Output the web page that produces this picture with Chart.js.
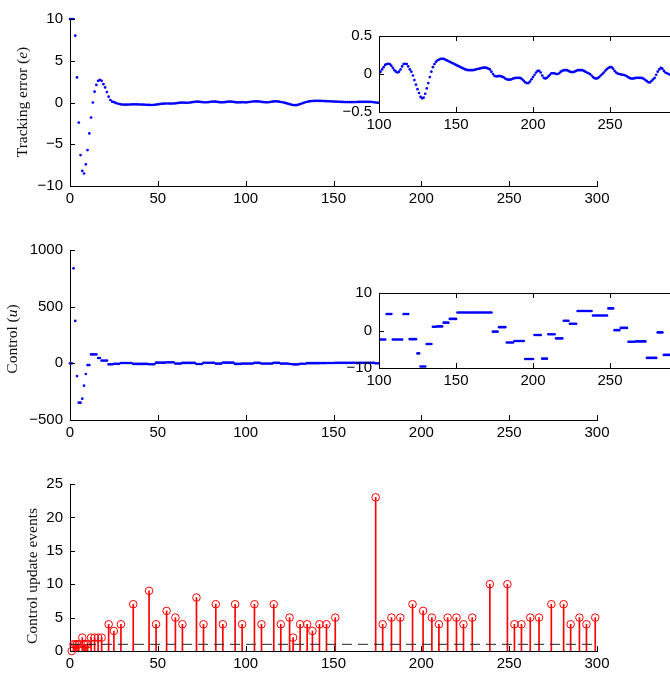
<!DOCTYPE html>
<html>
<head>
<meta charset="utf-8">
<script src="https://cdn.jsdelivr.net/npm/chart.js@4.4.1/dist/chart.umd.min.js"></script>
<style>
  html, body { margin: 0; padding: 0; background: #fff; overflow: hidden; width: 670px; height: 673px; }
  canvas { position: absolute; }
</style>
</head>
<body>
<canvas id="errChart" width="670" height="215" style="left:0;top:0"></canvas>
<canvas id="ctrlChart" width="670" height="220" style="left:0;top:230px"></canvas>
<canvas id="eventChart" width="670" height="210" style="left:0;top:463px"></canvas>
<canvas id="errZoom" width="420" height="115" style="left:290px;top:20px"></canvas>
<canvas id="ctrlZoom" width="420" height="115" style="left:290px;top:277px"></canvas>
<script>
// tracking error e, one sample per time step (t = 0..300)
const trackingError = [
  10, 10, 10, 8, 3, -2.4, -6.3, -8.2, -8.5, -7.4,
  -5.7, -3.7, -1.8, 0, 1.3, 2.1, 2.6, 2.7, 2.6, 2.2,
  1.8, 1.25, 0.7, 0.3, 0.1, 0.05, -0.05, -0.12, -0.18, -0.22,
  -0.25, -0.26, -0.26, -0.25, -0.24, -0.23, -0.22, -0.22, -0.22, -0.23,
  -0.24, -0.25, -0.26, -0.27, -0.28, -0.29, -0.3, -0.3, -0.28, -0.25,
  -0.22, -0.19, -0.16, -0.14, -0.13, -0.12, -0.12, -0.13, -0.13, -0.12,
  -0.1, -0.07, -0.04, -0.02, -0.01, -0.02, -0.03, -0.03, -0.01, 0.02,
  0.05, 0.08, 0.1, 0.1, 0.08, 0.05, 0.03, 0.02, 0.03, 0.05,
  0.08, 0.1, 0.11, 0.1, 0.07, 0.04, 0.02, 0.02, 0.04, 0.07,
  0.1, 0.11, 0.1, 0.07, 0.04, 0.02, 0.01, 0.02, 0.04, 0.03,
  0.01, 0.03, 0.06, 0.09, 0.12, 0.13, 0.135, 0.13, 0.11, 0.08,
  0.05, 0.03, 0.02, 0.03, 0.06, 0.1, 0.13, 0.135, 0.13, 0.1,
  0.06, 0.03, -0.02, -0.08, -0.14, -0.2, -0.25, -0.3, -0.32, -0.31,
  -0.26, -0.19, -0.12, -0.04, 0.03, 0.09, 0.13, 0.16, 0.18, 0.19,
  0.2, 0.2, 0.2, 0.19, 0.18, 0.17, 0.16, 0.15, 0.14, 0.13,
  0.12, 0.11, 0.1, 0.09, 0.08, 0.07, 0.06, 0.055, 0.05, 0.05,
  0.05, 0.05, 0.055, 0.06, 0.066, 0.07, 0.075, 0.08, 0.083, 0.083,
  0.08, 0.07, 0.06, 0.03, 0, -0.025, -0.03, -0.03, -0.025, -0.03,
  -0.035, -0.045, -0.06, -0.07, -0.075, -0.075, -0.07, -0.06, -0.055, -0.05,
  -0.05, -0.05, -0.055, -0.07, -0.09, -0.11, -0.12, -0.12, -0.1, -0.07,
  -0.04, -0.01, 0.02, 0.04, 0.04, 0.02, -0.02, -0.05, -0.06, -0.05,
  -0.03, -0.01, 0.01, 0.01, 0.01, 0, 0, 0.01, 0.03, 0.04,
  0.05, 0.05, 0.05, 0.04, 0.03, 0.025, 0.025, 0.03, 0.04, 0.05,
  0.05, 0.05, 0.05, 0.04, 0.03, 0.02, 0.01, 0, -0.02, -0.04,
  -0.055, -0.06, -0.055, -0.04, -0.02, 0, 0.02, 0.045, 0.065, 0.08,
  0.09, 0.09, 0.07, 0.04, 0.02, 0.005, 0, -0.005, -0.01, -0.013,
  -0.02, -0.03, -0.045, -0.055, -0.06, -0.06, -0.055, -0.05, -0.05, -0.05,
  -0.05, -0.055, -0.065, -0.08, -0.095, -0.11, -0.11, -0.09, -0.07, -0.05,
  -0.01, 0.03, 0.06, 0.08, 0.07, 0.04, 0.02, 0.01, 0, -0.01,
  -0.01, 0, 0.01, 0.01, 0, -0.01, -0.01, 0, 0.01, 0.01,
  0
];

// control u, held between update events (t = 0..300)
const control = [
  0, 0, 838, 374, -112, -347, -347, -312, -197, -94,
  -15, -15, 79, 79, 79, 79, 47, 47, 24, 24,
  24, 24, -9, -9, -9, -4, -4, -4, -4, 3,
  3, 3, 3, 3, 3, 3, -5, -5, -5, -5,
  -5, -5, -5, -5, -5, -8, -8, -8, -8, 6,
  6, 6, 6, 6, 6, 9, 9, 9, 9, 9,
  -2, -2, -2, -2, 4, 4, 4, 4, 4, 4,
  4, 4, -6, -6, -6, -6, 5, 5, 5, 5,
  5, 5, 5, -3, -3, -3, -3, 6, 6, 6,
  6, 6, 6, 6, -5, -5, -5, -5, -2.4, -2.4,
  -2.4, -2.4, -2.4, -2.4, -2.4, 4.4, 4.4, 4.4, 4.4, -2.4,
  -2.4, -2.4, -2.4, -2.4, -2.4, -2.4, 4.4, 4.4, 4.4, 4.4,
  -2.3, -2.3, -2.3, -2.3, -2.3, -6.1, -6.1, -9.6, -9.6, -9.6,
  -9.6, -3.6, -3.6, -3.6, -3.6, 1, 1, 1, 1.1, 1.1,
  1.1, 1.1, 2.1, 2.1, 2.1, 2.1, 3.1, 3.1, 3.1, 3.1,
  3.1, 4.8, 4.8, 4.8, 4.8, 4.8, 4.8, 4.8, 4.8, 4.8,
  4.8, 4.8, 4.8, 4.8, 4.8, 4.8, 4.8, 4.8, 4.8, 4.8,
  4.8, 4.8, 4.8, 4.8, -0.3, -0.3, -0.3, -0.3, 0.9, 0.9,
  0.9, 0.9, 0.9, -3.2, -3.2, -3.2, -3.2, -3.2, -2.8, -2.8,
  -2.8, -2.8, -2.8, -2.8, -2.8, -7.6, -7.6, -7.6, -7.6, -7.6,
  -7.6, -1.2, -1.2, -1.2, -1.2, -1.2, -7.5, -7.5, -7.5, -7.5,
  -1, -1, -1, -1, -1, -2.1, -2.1, -2.1, -2.1, -2.1,
  2.6, 2.6, 2.6, 2.6, 1.8, 1.8, 1.8, 1.8, 1.8, 5.2,
  5.2, 5.2, 5.2, 5.2, 5.2, 5.2, 5.2, 5.2, 5.2, 4,
  4, 4, 4, 4, 4, 4, 4, 4, 4, 5.9,
  5.9, 5.9, 5.9, 0.1, 0.1, 0.1, 0.1, 0.7, 0.7, 0.7,
  0.7, 0.7, -3, -3, -3, -3, -3, -2.9, -2.9, -2.9,
  -2.9, -2.9, -2.9, -2.9, -7.3, -7.3, -7.3, -7.3, -7.3, -7.3,
  -7.3, -0.5, -0.5, -0.5, -0.5, -6.5, -6.5, -6.5, -6.5, -6.5,
  -2, -2, -2, -2, 1.5, 1.5, 1.5, 1.5, 1.5, 3,
  3
];

// control update events: time of event and steps since previous event
const eventTimes = [1, 2, 3, 4, 5, 7, 8, 9, 10, 12, 14, 16, 18, 22, 25, 29, 36, 45, 49, 55,
  60, 64, 72, 76, 83, 87, 94, 98, 105, 109, 116, 120, 125, 127, 131, 135, 138, 142, 146, 151,
  174, 178, 183, 188, 195, 201, 206, 210, 215, 220, 224, 229, 239, 249, 253, 257, 262, 267, 274, 281,
  285, 290, 294, 299];
const eventGaps = [0, 1, 1, 1, 1, 2, 1, 1, 1, 2, 2, 2, 2, 4, 3, 4, 7, 9, 4, 6,
  5, 4, 8, 4, 7, 4, 7, 4, 7, 4, 7, 4, 5, 2, 4, 4, 3, 4, 4, 5,
  23, 4, 5, 5, 7, 6, 5, 4, 5, 5, 4, 5, 10, 10, 4, 4, 5, 5, 7, 7,
  4, 5, 4, 5];
const threshold = 1;
const timeSpan = [0, 300];

const errTicks = [-10, 10, 5];
const ctrlTicks = [-500, 1000, 500];
const eventTicks = [0, 25, 5];
const errZoomTicks = [-0.5, 0.5, 0.5];
const ctrlZoomTicks = [-10, 10, 10];
const zoomStart = 100;

Chart.defaults.font.family = '"Liberation Sans", Arial, sans-serif';
Chart.defaults.font.size = 15;
Chart.defaults.color = '#000';

const toPoints = arr => arr.map((v, i) => ({ x: i, y: v }));
const minus = v => String(v).replace('-', '\u2212');

// MATLAB style: ticks pointing inward, optional full box with white face
const matlabAxes = {
  id: 'matlabAxes',
  beforeDraw(chart, args, opts) {
    if (!opts.box) return;
    const { ctx, chartArea: a } = chart;
    ctx.save();
    ctx.fillStyle = '#fff';
    ctx.fillRect(a.left, a.top, a.width, a.height);
    ctx.restore();
  },
  afterDraw(chart, args, opts) {
    const { ctx, chartArea: a, scales } = chart;
    const len = 5;
    ctx.save();
    ctx.strokeStyle = '#000';
    ctx.lineWidth = 1;
    ctx.beginPath();
    scales.x.ticks.forEach(t => {
      const px = Math.round(scales.x.getPixelForValue(t.value)) + 0.5;
      ctx.moveTo(px, a.bottom); ctx.lineTo(px, a.bottom - len);
      if (opts.box) { ctx.moveTo(px, a.top); ctx.lineTo(px, a.top + len); }
    });
    scales.y.ticks.forEach(t => {
      const py = Math.round(scales.y.getPixelForValue(t.value)) + 0.5;
      ctx.moveTo(a.left, py); ctx.lineTo(a.left + len, py);
      if (opts.box) { ctx.moveTo(a.right, py); ctx.lineTo(a.right - len, py); }
    });
    ctx.stroke();
    if (opts.box) {
      ctx.strokeRect(Math.round(a.left) + 0.5, Math.round(a.top) + 0.5, Math.round(a.width), Math.round(a.height));
    }
    ctx.restore();
  }
};

// rotated y label with an italic symbol
const yTitle = {
  id: 'yTitle',
  afterDraw(chart, args, opts) {
    if (!opts.parts) return;
    const ctx = chart.ctx;
    const font = it => (it ? 'italic ' : '') + '15.5px "Liberation Serif", "Times New Roman", serif';
    ctx.save();
    ctx.translate(opts.x, opts.y);
    ctx.rotate(-Math.PI / 2);
    ctx.fillStyle = '#111';
    ctx.textBaseline = 'middle';
    ctx.textAlign = 'left';
    let w = 0;
    opts.parts.forEach(p => { ctx.font = font(p[1]); w += ctx.measureText(p[0]).width; });
    let pos = -w / 2;
    opts.parts.forEach(p => {
      ctx.font = font(p[1]);
      ctx.fillText(p[0], pos, 0);
      pos += ctx.measureText(p[0]).width;
    });
    ctx.restore();
  }
};

Chart.register(matlabAxes, yTitle);

function options(cfg) {
  return {
    responsive: false,
    animation: false,
    events: [],
    layout: { padding: { top: cfg.top, right: cfg.right, left: 0, bottom: 0 } },
    plugins: {
      legend: { display: false },
      tooltip: { enabled: false },
      matlabAxes: { box: !!cfg.box },
      yTitle: cfg.title || {}
    },
    scales: {
      x: {
        type: 'linear',
        min: cfg.xmin,
        max: timeSpan[1],
        offset: false,
        grid: { display: false, drawTicks: false },
        border: { display: true, color: '#000', width: 1 },
        ticks: { stepSize: 50, padding: 4, maxRotation: 0, callback: minus },
        afterFit: s => { s.height = cfg.xh; }
      },
      y: {
        min: cfg.yt[0],
        max: cfg.yt[1],
        grid: { display: false, drawTicks: false },
        border: { display: true, color: '#000', width: 1 },
        ticks: { stepSize: cfg.yt[2], padding: 7, callback: minus },
        afterFit: s => { s.width = cfg.yw; }
      }
    }
  };
}

const dots = (arr, clip) => ({
  type: 'scatter',
  data: toPoints(arr),
  pointRadius: 1.35,
  pointBorderWidth: 0,
  pointBackgroundColor: '#0000ff',
  showLine: false,
  clip: clip
});

// Tracking error
new Chart(document.getElementById('errChart'), {
  type: 'scatter',
  data: { datasets: [dots(trackingError, false)] },
  options: options({ top: 19, right: 73, xh: 29, yw: 70, xmin: timeSpan[0], yt: errTicks,
    title: { parts: [['Tracking error (', false], ['e', true], [')', false]], x: 23, y: 102 } })
});

// Control
new Chart(document.getElementById('ctrlChart'), {
  type: 'scatter',
  data: { datasets: [dots(control, false)] },
  options: options({ top: 20, right: 73, xh: 30, yw: 70, xmin: timeSpan[0], yt: ctrlTicks,
    title: { parts: [['Control (', false], ['u', true], [')', false]], x: 13, y: 109 } })
});

// Control update events (stems)
const events = eventTimes.map((t, i) => ({ x: t, y: eventGaps[i] }));
new Chart(document.getElementById('eventChart'), {
  type: 'bar',
  data: {
    datasets: [
      { type: 'line', data: timeSpan.map(t => ({ x: t, y: threshold })), borderColor: '#222',
        borderWidth: 1, borderDash: [10, 6], pointRadius: 0, order: 0 },
      { type: 'scatter', data: events, pointRadius: 3.8, pointBorderWidth: 1,
        pointBorderColor: '#ff0000', pointBackgroundColor: 'rgba(0,0,0,0)', clip: false, order: 1 },
      { type: 'bar', data: events, backgroundColor: '#ff0000', barThickness: 1, order: 2 }
    ]
  },
  options: options({ top: 21, right: 73, xh: 22, yw: 70, xmin: timeSpan[0], yt: eventTicks,
    title: { parts: [['Control update events', false]], x: 33, y: 113 } })
});

// Insets (t >= 100)
new Chart(document.getElementById('errZoom'), {
  type: 'scatter',
  data: { datasets: [dots(trackingError)] },
  options: options({ top: 16, right: 23, xh: 23, yw: 89, xmin: zoomStart, yt: errZoomTicks, box: true })
});

new Chart(document.getElementById('ctrlZoom'), {
  type: 'scatter',
  data: { datasets: [dots(control)] },
  options: options({ top: 16, right: 23, xh: 24, yw: 89, xmin: zoomStart, yt: ctrlZoomTicks, box: true })
});
</script>
</body>
</html>
